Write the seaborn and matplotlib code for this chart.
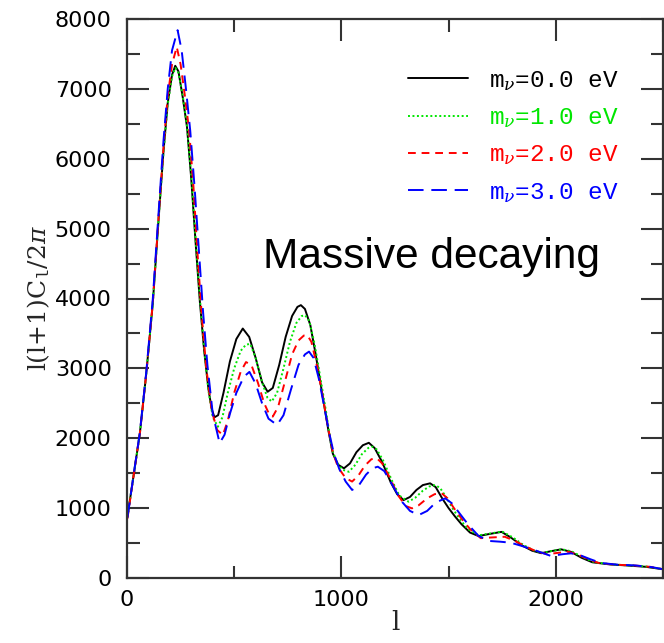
import numpy as np
import pandas as pd
import matplotlib
matplotlib.use("Agg")
import matplotlib.pyplot as plt
from matplotlib.ticker import MultipleLocator
import seaborn as sns

# ---- data ----
l_m0 = [2, 30, 60, 90, 120, 150, 170, 190, 210, 225, 240, 260, 280, 300, 320, 340, 360, 380, 395, 408,
        425, 450, 480, 510, 540, 570, 600, 630, 656, 680, 710, 740, 770, 795, 811, 830, 855, 880, 910, 940,
        960, 985, 1012, 1040, 1070, 1100, 1128, 1155, 1190, 1230, 1260, 1290, 1320, 1350, 1380, 1414, 1440,
        1470, 1500, 1530, 1560, 1600, 1640, 1690, 1747, 1790, 1840, 1890, 1932, 1980, 2025, 2070, 2120,
        2170, 2250, 2330, 2420, 2500]
cl_m0 = [880, 1450, 2070, 2930, 3920, 5250, 6100, 6800, 7200, 7330, 7250, 6880, 6450, 5700, 4800, 3950,
         3250, 2700, 2420, 2300, 2330, 2650, 3100, 3420, 3570, 3450, 3150, 2800, 2665, 2720, 3050, 3450,
         3750, 3880, 3905, 3850, 3620, 3200, 2650, 2100, 1780, 1620, 1570, 1640, 1800, 1900, 1935, 1860,
         1660, 1370, 1200, 1115, 1160, 1260, 1330, 1355, 1300, 1140, 1000, 880, 770, 650, 600, 630, 660,
         580, 470, 390, 355, 385, 410, 375, 290, 225, 195, 180, 160, 125]

l_m1 = [2, 30, 60, 90, 120, 150, 170, 190, 210, 226, 240, 260, 280, 300, 320, 340, 360, 380, 400, 424,
        445, 470, 500, 530, 555, 575, 600, 630, 655, 675, 700, 730, 760, 790, 815, 831, 850, 875, 900, 930,
        955, 980, 1005, 1035, 1065, 1095, 1125, 1143, 1165, 1195, 1235, 1270, 1313, 1345, 1380, 1410, 1437,
        1460, 1490, 1520, 1550, 1590, 1640, 1700, 1750, 1800, 1850, 1900, 1940, 1985, 2030, 2075, 2130,
        2180, 2260, 2340, 2420, 2500]
cl_m1 = [880, 1450, 2070, 2930, 3920, 5250, 6080, 6780, 7180, 7300, 7230, 6900, 6470, 5750, 4850, 4000,
         3270, 2680, 2300, 2165, 2300, 2650, 3000, 3250, 3340, 3350, 3150, 2800, 2580, 2525, 2650, 3000,
         3380, 3650, 3750, 3760, 3680, 3350, 2900, 2350, 1850, 1650, 1550, 1520, 1620, 1770, 1860, 1880,
         1840, 1680, 1400, 1180, 1092, 1150, 1250, 1310, 1330, 1290, 1150, 990, 850, 700, 610, 640, 665,
         580, 470, 390, 360, 390, 410, 380, 290, 225, 195, 180, 165, 125]

l_m2 = [2, 30, 60, 90, 120, 150, 170, 190, 210, 232, 250, 270, 290, 310, 330, 350, 370, 395, 420, 447,
        470, 500, 530, 555, 580, 610, 640, 665, 680, 705, 740, 770, 800, 825, 841, 860, 885, 910, 935, 960,
        985, 1020, 1050, 1080, 1110, 1140, 1166, 1190, 1225, 1265, 1300, 1329, 1360, 1400, 1435, 1468,
        1495, 1525, 1560, 1600, 1650, 1700, 1762, 1810, 1860, 1910, 1960, 2010, 2056, 2100, 2150, 2200,
        2280, 2360, 2440, 2500]
cl_m2 = [850, 1450, 2070, 2930, 3930, 5280, 6150, 6900, 7350, 7600, 7350, 6900, 6400, 5600, 4600, 3700,
         3000, 2400, 2120, 2046, 2250, 2650, 2950, 3090, 3050, 2800, 2500, 2330, 2310, 2450, 2850, 3200,
         3400, 3470, 3475, 3380, 3050, 2650, 2200, 1800, 1580, 1430, 1380, 1470, 1610, 1700, 1712, 1640,
         1440, 1180, 1030, 997, 1040, 1140, 1200, 1212, 1140, 1000, 850, 700, 570, 580, 590, 530, 450, 380,
         340, 360, 377, 340, 270, 215, 190, 180, 160, 125]

l_m3 = [2, 30, 60, 90, 120, 150, 170, 190, 210, 236, 255, 275, 295, 315, 335, 355, 375, 400, 432, 455,
        480, 510, 545, 571, 600, 630, 660, 700, 730, 765, 800, 830, 849, 870, 895, 920, 945, 965, 990, 1020,
        1050, 1080, 1115, 1145, 1170, 1200, 1240, 1280, 1320, 1360, 1400, 1440, 1484, 1515, 1550, 1590,
        1640, 1690, 1739, 1790, 1840, 1900, 1978, 2030, 2071, 2110, 2160, 2210, 2290, 2370, 2450, 2500]
cl_m3 = [860, 1460, 2080, 2950, 3980, 5350, 6250, 7000, 7550, 7840, 7550, 7000, 6400, 5600, 4700, 3800,
         3050, 2350, 1930, 2050, 2350, 2650, 2880, 2950, 2780, 2500, 2280, 2190, 2330, 2700, 3050, 3200,
         3240, 3150, 2850, 2450, 2050, 1780, 1560, 1380, 1260, 1320, 1480, 1570, 1593, 1530, 1320, 1100,
         960, 900, 960, 1080, 1140, 1070, 930, 770, 600, 530, 520, 505, 460, 400, 315, 340, 353, 330, 270,
         215, 190, 180, 155, 125]

labels = [r"m$_\nu$=0.0 eV", r"m$_\nu$=1.0 eV", r"m$_\nu$=2.0 eV", r"m$_\nu$=3.0 eV"]
x_ticks = [0, 1000, 2000]
y_ticks = [0, 1000, 2000, 3000, 4000, 5000, 6000, 7000, 8000]

# ---- styling ----
sns.set_style("ticks")
plt.rcParams["font.family"] = ["DejaVu Sans"]
plt.rcParams["mathtext.fontset"] = "custom"
plt.rcParams["mathtext.rm"] = "Liberation Mono"
plt.rcParams["mathtext.it"] = "DejaVu Serif:italic"

fig = plt.figure(figsize=(6.64, 6.43), dpi=100)
ax = fig.add_axes([127 / 664, 1 - 578 / 643, 536 / 664, (578 - 19) / 643])

colors = ["#000000", "#00e600", "#ff0000", "#0000ff"]
styles = ["-", (0, (1, 1.3)), (0, (4, 3)), (0, (8, 4))]
series = [(l_m0, cl_m0), (l_m1, cl_m1), (l_m2, cl_m2), (l_m3, cl_m3)]

for (lx, cy), c, ls, lab in zip(series, colors, styles, labels):
    sns.lineplot(x=lx, y=cy, ax=ax, color=c, linestyle=ls, linewidth=1.4, label=lab)

ax.set_xlim(0, 2500)
ax.set_ylim(0, 8000)
ax.set_xticks(x_ticks)
ax.set_yticks(y_ticks)
ax.xaxis.set_minor_locator(MultipleLocator(500))
ax.yaxis.set_minor_locator(MultipleLocator(500))
ax.tick_params(which="both", direction="in", top=True, right=True, width=1.5, color="#333333")
ax.tick_params(which="major", length=16)
ax.tick_params(which="minor", length=9)
ax.tick_params(axis="both", labelsize=16, labelcolor="black")
ax.tick_params(axis="x", pad=9)
ax.tick_params(axis="y", pad=11)
for sp in ax.spines.values():
    sp.set_linewidth(1.6)
    sp.set_color("#333333")

ax.set_xlabel("l", fontsize=19, family="DejaVu Serif", labelpad=0)
ax.set_ylabel(r"l(l+1)C$_\mathrm{l}$/2$\pi$", fontsize=18, family="DejaVu Serif", labelpad=2)

ax.text(636, 4435, "Massive decaying", fontsize=30.5, family="Liberation Sans", color="black",
        ha="left", va="baseline")

leg = ax.legend(loc="upper right", bbox_to_anchor=(0.935, 0.928), frameon=False, borderaxespad=0,
                prop={"family": "Liberation Mono", "size": 17.5}, handlelength=2.5,
                handletextpad=0.85, labelspacing=0.55, labelcolor="linecolor")

fig.savefig("out.png", dpi=100)
